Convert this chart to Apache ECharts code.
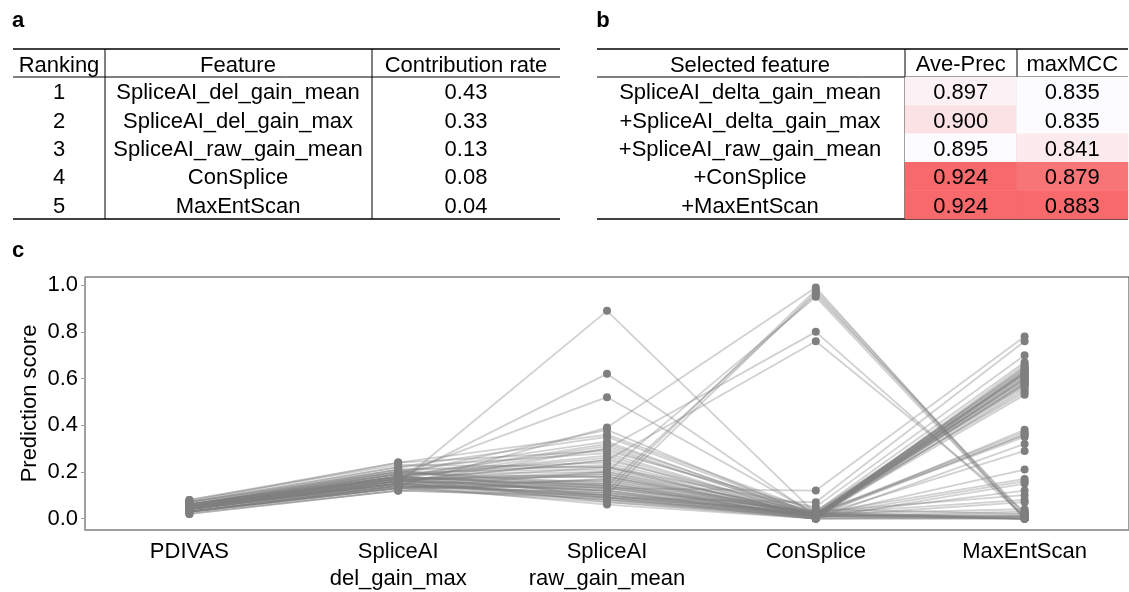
<!DOCTYPE html>
<html>
<head>
<meta charset="utf-8">
<script src="https://cdn.jsdelivr.net/npm/echarts@6/dist/echarts.min.js"></script>
<style>
html,body{margin:0;padding:0;background:#fff;}
#chart{width:1129px;height:592px;}
</style>
</head>
<body>
<div id="chart"></div>
<script>
// ---------- Table a data ----------
const rankA = ['1', '2', '3', '4', '5'];
const featureA = ['SpliceAI_del_gain_mean', 'SpliceAI_del_gain_max', 'SpliceAI_raw_gain_mean', 'ConSplice', 'MaxEntScan'];
const contribA = [0.43, 0.33, 0.13, 0.08, 0.04];
const headerA = ['Ranking', 'Feature', 'Contribution rate'];

// ---------- Table b data ----------
const featureB = ['SpliceAI_delta_gain_mean', '+SpliceAI_delta_gain_max', '+SpliceAI_raw_gain_mean', '+ConSplice', '+MaxEntScan'];
const metricB = ['Ave-Prec', 'maxMCC'];
const avePrec = [0.897, 0.900, 0.895, 0.924, 0.924];
const maxMCC = [0.835, 0.835, 0.841, 0.879, 0.883];

// ---------- Panel c data ----------
const categoriesC = ['PDIVAS', 'SpliceAI\ndel_gain_max', 'SpliceAI\nraw_gain_mean', 'ConSplice', 'MaxEntScan'];
const yTicks = [0, 0.2, 0.4, 0.6, 0.8, 1.0];
const pdivas = [0.05,0.04,0.06,0.03,0.05,0.04,0.06,0.03,0.05,0.04,0.05,0.04,0.06,
  0.03,0.04,0.05,0.02,0.06,0.045,0.03,0.05,0.07,0.04,0.035,0.06,0.05,0.04,0.08,0.065,0.05,0.07,0.04,0.06,0.075,0.05,0.03,0.04,0.055,0.06,0.03,
  0.04,0.05,0.03,0.06,0.045,0.05,0.07,0.03,0.04,0.06,0.05,0.04,0.025,0.05,0.06,
  0.04,0.05,0.03,0.06,0.04,0.055,0.07,0.03,0.04,0.06,0.05,0.02,0.08,0.04,0.05];
const delGainMax = [0.15,0.17,0.19,0.14,0.16,0.15,0.18,0.13,0.17,0.16,0.18,0.15,0.21,
  0.13,0.14,0.15,0.12,0.17,0.16,0.14,0.18,0.20,0.15,0.13,0.19,0.17,0.16,0.23,0.21,0.18,0.22,0.15,0.20,0.24,0.19,0.14,0.16,0.17,0.18,0.13,
  0.15,0.17,0.14,0.20,0.16,0.18,0.21,0.13,0.15,0.19,0.17,0.14,0.12,0.16,0.18,
  0.15,0.17,0.13,0.19,0.16,0.18,0.22,0.14,0.15,0.20,0.17,0.12,0.24,0.16,0.18];
const rawGainMean = [0.89,0.62,0.52,0.39,0.12,0.10,0.14,0.20,0.30,0.25,0.13,0.09,0.22,
  0.07,0.08,0.09,0.10,0.11,0.12,0.13,0.14,0.15,0.16,0.17,0.18,0.19,0.20,0.22,0.24,0.26,0.28,0.30,0.33,0.36,0.38,0.11,0.09,0.16,0.13,0.08,
  0.12,0.18,0.10,0.21,0.15,0.27,0.09,0.14,0.19,0.23,0.07,0.11,0.17,0.13,0.10,
  0.08,0.12,0.15,0.20,0.25,0.31,0.35,0.06,0.10,0.14,0.18,0.09,0.29,0.22,0.32];
const conSplice = [0.02,0.01,0.02,0.99,0.98,0.97,0.96,0.95,0.80,0.76,0.12,0.07,0.05,
  0.01,0.02,0.01,0.00,0.02,0.01,0.03,0.01,0.02,0.00,0.01,0.02,0.01,0.03,0.01,0.02,0.00,0.01,0.02,0.01,0.03,0.01,0.01,0.00,0.02,0.01,0.00,
  0.01,0.02,0.01,0.02,0.00,0.01,0.03,0.01,0.02,0.01,0.00,0.01,0.02,0.01,0.02,
  0.01,0.00,0.02,0.01,0.03,0.01,0.02,0.00,0.01,0.02,0.01,0.00,0.04,0.01,0.02];
const maxEntScan = [0.62,0.58,0.36,0.00,0.01,0.00,0.02,0.00,0.01,0.03,0.78,0.76,0.70,
  0.65,0.64,0.63,0.62,0.61,0.60,0.59,0.58,0.57,0.56,0.55,0.54,0.53,0.62,0.63,0.64,0.61,0.60,0.59,0.66,0.67,0.65,0.62,0.60,0.58,0.57,0.63,
  0.38,0.37,0.36,0.35,0.32,0.29,0.10,0.21,0.17,0.16,0.15,0.12,0.08,0.07,0.04,
  0.00,0.01,0.00,0.02,0.00,0.01,0.00,0.00,0.03,0.00,0.01,0.00,0.02,0.00,0.01];

// ---------- layout constants ----------
const FONT = '"Liberation Sans", Arial, sans-serif';
const tTop = 49, tHead = 77, rowH = 28.4, tBot = tHead + 5 * rowH;
const aLeft = 13, aRight = 560, aDiv = [105, 372], aCenters = [59, 238, 466];
const bLeft = 597, bRight = 1128, bDiv = [905, 1017], bFeatCenter = 750;

const chart = echarts.init(document.getElementById('chart'), null, {renderer: 'canvas'});

const graphics = [];
function txt(x, y, s, opts) {
  graphics.push({type: 'text', x: x, y: y, silent: true,
    style: Object.assign({text: s, fill: '#000', font: '22px ' + FONT, textAlign: 'center', textVerticalAlign: 'middle'}, opts || {})});
}
function line(x1, y1, x2, y2, w) {
  graphics.push({type: 'line', silent: true, shape: {x1: x1, y1: y1, x2: x2, y2: y2},
    style: {stroke: '#000', lineWidth: w}});
}
// panel letters
txt(18, 21, 'a', {font: 'bold 22px ' + FONT});
txt(603, 21, 'b', {font: 'bold 22px ' + FONT});
txt(18, 251, 'c', {font: 'bold 22px ' + FONT});
// table a
headerA.forEach((h, j) => txt(aCenters[j], (tTop + tHead) / 2 + 2.5, h));
for (let i = 0; i < rankA.length; i++) {
  const y = tHead + rowH * (i + 0.5) + 2;
  txt(aCenters[0], y, rankA[i]);
  txt(aCenters[1], y, featureA[i]);
  txt(aCenters[2], y, contribA[i].toFixed(2));
}
line(aLeft, tTop, aRight, tTop, 1.6);
line(aLeft, tHead, aRight, tHead, 1);
line(aLeft, tBot, aRight, tBot, 1.6);
aDiv.forEach(x => line(x, tTop, x, tBot, 1));
// table b header + feature names
txt(bFeatCenter, (tTop + tHead) / 2 + 2.5, 'Selected feature');
featureB.forEach((f, i) => txt(bFeatCenter, tHead + rowH * (i + 0.5) + 2, f));

const heatA = avePrec.map((v, i) => [0, i, v]);
const heatM = maxMCC.map((v, i) => [1, i, v]);

// panel c series
const nS = pdivas.length;
const series = [];
const cols = [pdivas, delGainMax, rawGainMean, conSplice, maxEntScan];
for (let i = 0; i < nS; i++) {
  series.push({
    type: 'line', xAxisIndex: 1, yAxisIndex: 1, silent: true, showSymbol: false, symbol: 'none',
    data: cols.map(c => c[i]),
    lineStyle: {color: 'rgba(127,127,127,0.36)', width: 1.8},
    z: 2, animation: false
  });
}
const pts = [];
cols.forEach((c, j) => c.forEach(v => pts.push([j, v])));
series.push({
  type: 'scatter', xAxisIndex: 1, yAxisIndex: 1, silent: true, data: pts,
  symbol: 'circle', symbolSize: 8, itemStyle: {color: '#7f7f7f', opacity: 1}, z: 5, animation: false
});
const hA = series.length;
const heatLabel = {show: true, color: '#000', fontSize: 22, fontFamily: FONT, offset: [0, 2],
  formatter: p => p.value[2].toFixed(3)};
series.push({type: 'heatmap', xAxisIndex: 0, yAxisIndex: 0, data: heatA, silent: true, label: heatLabel});
series.push({type: 'heatmap', xAxisIndex: 0, yAxisIndex: 0, data: heatM, silent: true, label: heatLabel});

// table b rules
line(bLeft, tTop, bRight, tTop, 1.6);
line(bLeft, tHead, bRight, tHead, 1);
line(bLeft, tBot, bRight, tBot, 1.6);
bDiv.forEach(x => line(x, tTop, x, tBot, 1));

const option = {
  backgroundColor: '#fff',
  animation: false,
  textStyle: {fontFamily: FONT},
  grid: [
    {left: bDiv[0], top: tHead, width: bRight - bDiv[0], height: tBot - tHead, containLabel: false},
    {left: 85, top: 277, width: 1045, height: 260, containLabel: false,
     show: true, borderColor: '#3c3c3c', borderWidth: 1, backgroundColor: 'transparent'}
  ],
  xAxis: [
    {type: 'category', gridIndex: 0, data: metricB, position: 'top',
     axisLine: {show: false}, axisTick: {show: false}, splitLine: {show: false},
     axisLabel: {color: '#000', fontSize: 22, fontFamily: FONT, margin: 1, interval: 0}},
    {type: 'category', gridIndex: 1, data: categoriesC, boundaryGap: true,
     axisLine: {show: true, onZero: false, lineStyle: {color: '#a0a0a0', width: 1.5}},
     axisTick: {show: false}, splitLine: {show: false},
     axisLabel: {color: '#000', fontSize: 22, fontFamily: FONT, margin: 8, lineHeight: 27, interval: 0}}
  ],
  yAxis: [
    {type: 'category', gridIndex: 0, data: featureB, inverse: true,
     axisLine: {show: false}, axisTick: {show: false}, splitLine: {show: false},
     axisLabel: {show: false}},
    {type: 'value', gridIndex: 1, min: -0.049, max: 1.035,
     name: 'Prediction score', nameLocation: 'middle', nameGap: 44, nameRotate: 90, nameMoveOverlap: false,
     nameTextStyle: {color: '#000', fontSize: 22, fontFamily: FONT},
     axisLine: {show: true, onZero: false, lineStyle: {color: '#a0a0a0', width: 1.5}},
     axisTick: {show: true, length: 4, lineStyle: {color: '#a0a0a0', width: 1}, customValues: yTicks},
     splitLine: {show: false},
     axisLabel: {color: '#000', fontSize: 22, fontFamily: FONT, margin: 7, customValues: yTicks,
       formatter: v => v.toFixed(1)}}
  ],
  visualMap: [
    {type: 'continuous', show: false, seriesIndex: hA, dimension: 2,
     min: Math.min(...avePrec), max: Math.max(...avePrec), inRange: {color: ['#FCFCFF', '#F8696B']}},
    {type: 'continuous', show: false, seriesIndex: hA + 1, dimension: 2,
     min: Math.min(...maxMCC), max: Math.max(...maxMCC), inRange: {color: ['#FCFCFF', '#F8696B']}}
  ],
  series: series,
  graphic: {elements: graphics}
};
chart.setOption(option);
</script>
</body>
</html>
